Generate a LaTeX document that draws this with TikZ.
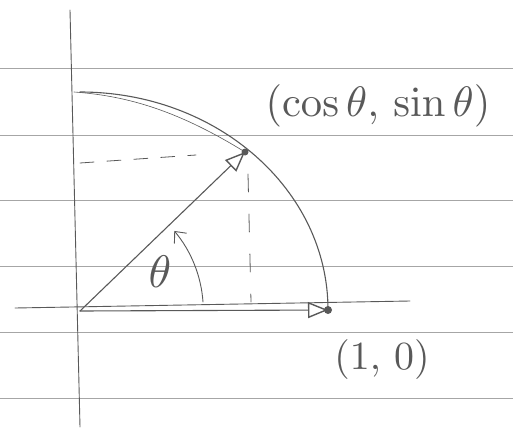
\documentclass[tikz,border=0pt]{standalone}
\usetikzlibrary{arrows.meta}

\begin{document}
\begin{tikzpicture}[x = 1pt, y = 1pt, line cap = round,
    pencil/.style = {draw = black!65, line width = 1.1pt},
    ruled/.style = {draw = black!35, line width = 1pt},
    handtext/.style = {text = black!65, scale = 3.8},
    open tip/.style = {-{Triangle[open, length = 20pt, width = 16pt, line width = 1.4pt]}}]
    \useasboundingbox (0, 0) rectangle (513, 432);
    % ruled paper
    \foreach \y in {363, 297, 232, 166, 100, 34}
      \draw[ruled] (0, \y) -- (513, \y);
    % axes
    \coordinate (y top) at (70, 422);
    \coordinate (y bottom) at (80, 5);
    \coordinate (x left) at (15, 124);
    \coordinate (x right) at (410, 131);
    \draw[pencil, line width = 0.9pt] (y bottom) -- (y top);
    \draw[pencil, line width = 0.9pt] (x left) -- (x right);
    \coordinate (origin) at (80, 121);
    \coordinate (cos sin point) at (245, 280);
    \coordinate (unit point) at (328, 122);
    % arc of the circle
    \draw[pencil] (unit point) arc[start angle = 0, end angle = 90, x radius = 248, y radius = 218];
    \draw[pencil, line width = 0.6pt] (cos sin point) .. controls (180, 320) and (130, 336) .. (74, 340);
    % projections
    \coordinate (sin mark) at (80, 269);
    \coordinate (cos mark) at (251, 130);
    \draw[pencil, dashed, dash pattern = on 14pt off 13pt, line width = 0.8pt] (sin mark) -- (196, 277);
    \draw[pencil, dashed, dash pattern = on 18pt off 22pt, line width = 0.8pt] (248, 258) -- (cos mark);
    % vectors
    \draw[pencil, open tip] (origin) -- (cos sin point);
    \draw[pencil, open tip] (origin) -- (unit point);
    \fill[black!65] (cos sin point) circle (3.5);
    \fill[black!65] (unit point) circle (4);
    % angle
    \coordinate (angle start) at (203, 130);
    \draw[pencil, line width = 0.9pt, -{Straight Barb[length = 9pt, width = 16pt]}] (angle start) arc[start angle = 4, end angle = 40, radius = 124];
    \node[handtext, scale = 1.2] (theta) at (160, 160) {$\theta$};
    % labels
    \node[handtext, scale = 1.12] (cos sin label) at (378, 326) {$(\cos\theta,\, \sin\theta)$};
    \node[handtext, scale = 1.05] (unit label) at (382, 72) {$(1,\, 0)$};
  \end{tikzpicture}
\end{document}
